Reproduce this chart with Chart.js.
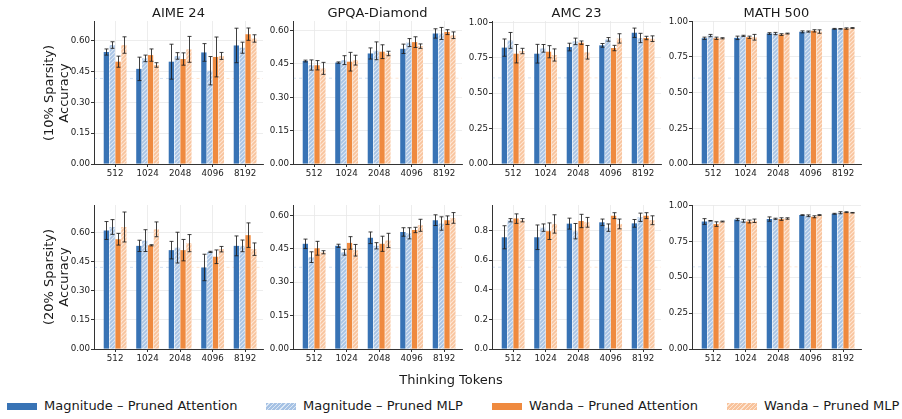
<!DOCTYPE html>
<html><head><meta charset="utf-8">
<script src="https://cdn.jsdelivr.net/npm/chart.js@4.4.1/dist/chart.umd.min.js"></script>
<style>
body{margin:0;width:902px;height:419px;background:#fff;position:relative;overflow:hidden;font-family:"DejaVu Sans",sans-serif;color:#1a1a1a}
canvas{position:absolute}
.title{position:absolute;font-size:13px;line-height:15px;white-space:nowrap;transform:translateX(-50%)}
.ylab{position:absolute;font-size:13px;line-height:15px;text-align:center;white-space:nowrap;transform:translate(-50%,-50%) rotate(-90deg)}
.xlab{position:absolute;font-size:13px;line-height:15px;white-space:nowrap;transform:translateX(-50%)}
.leg{position:absolute;font-size:13px;line-height:15px;white-space:nowrap}
.patch{position:absolute;width:30px;height:7px}
</style></head>
<body>
<script>
// ---------------- DATA ----------------
const categories = ['512','1024','2048','4096','8192'];
const seriesLabels = ['Magnitude – Pruned Attention','Magnitude – Pruned MLP','Wanda – Pruned Attention','Wanda – Pruned MLP'];
const benchmarks = ['AIME 24','GPQA-Diamond','AMC 23','MATH 500'];
const sparsityLabels = ['(10% Sparsity)','(20% Sparsity)'];
const yAxisTitle = 'Accuracy';
const xAxisTitle = 'Thinking Tokens';

// rows: Magnitude-Attn, Magnitude-MLP, Wanda-Attn, Wanda-MLP
const aime10Mean = [[0.545,0.463,0.498,0.543,0.577],[0.579,0.514,0.526,0.454,0.566],[0.498,0.530,0.511,0.521,0.632],[0.579,0.482,0.558,0.526,0.611]];
const aime10Err  = [[0.015,0.057,0.085,0.043,0.084],[0.016,0.016,0.016,0.069,0.027],[0.027,0.030,0.030,0.097,0.030],[0.040,0.011,0.063,0.017,0.018]];
const gpqa10Mean = [[0.463,0.456,0.497,0.518,0.587],[0.445,0.467,0.509,0.546,0.587],[0.444,0.460,0.505,0.548,0.593],[0.430,0.467,0.497,0.530,0.579]];
const gpqa10Err  = [[0.004,0.003,0.025,0.021,0.021],[0.023,0.020,0.040,0.018,0.027],[0.021,0.042,0.031,0.024,0.011],[0.027,0.022,0.010,0.010,0.015]];
const amc10Mean  = [[0.822,0.779,0.826,0.838,0.927],[0.873,0.817,0.866,0.880,0.890],[0.779,0.793,0.857,0.819,0.890],[0.798,0.770,0.789,0.887,0.885]];
const amc10Err   = [[0.061,0.066,0.027,0.013,0.033],[0.056,0.027,0.023,0.013,0.033],[0.065,0.043,0.012,0.019,0.012],[0.019,0.043,0.048,0.033,0.020]];
const math10Mean = [[0.881,0.884,0.914,0.926,0.947],[0.900,0.898,0.914,0.928,0.947],[0.881,0.888,0.907,0.933,0.949],[0.881,0.888,0.914,0.928,0.953]];
const math10Err  = [[0.008,0.012,0.006,0.007,0.003],[0.008,0.004,0.008,0.004,0.002],[0.008,0.008,0.006,0.008,0.005],[0.004,0.020,0.003,0.012,0.003]];

const aime20Mean = [[0.609,0.530,0.508,0.419,0.530],[0.627,0.557,0.521,0.499,0.530],[0.564,0.533,0.508,0.474,0.585],[0.627,0.615,0.544,0.513,0.513]];
const aime20Err  = [[0.046,0.029,0.045,0.068,0.051],[0.038,0.056,0.079,0.003,0.030],[0.030,0.003,0.055,0.035,0.063],[0.077,0.038,0.044,0.014,0.032]];
const gpqa20Mean = [[0.472,0.463,0.499,0.525,0.578],[0.412,0.434,0.463,0.519,0.563],[0.452,0.476,0.472,0.534,0.578],[0.434,0.443,0.487,0.555,0.588]];
const gpqa20Err  = [[0.021,0.007,0.026,0.019,0.024],[0.024,0.013,0.014,0.025,0.030],[0.031,0.028,0.034,0.012,0.019],[0.007,0.026,0.032,0.027,0.024]];
const amc20Mean  = [[0.755,0.755,0.847,0.856,0.849],[0.870,0.820,0.796,0.820,0.890],[0.881,0.796,0.865,0.901,0.901],[0.870,0.845,0.856,0.845,0.870]];
const amc20Err   = [[0.078,0.083,0.037,0.022,0.026],[0.011,0.025,0.052,0.025,0.028],[0.032,0.056,0.045,0.020,0.020],[0.011,0.062,0.033,0.033,0.030]];
const math20Mean = [[0.888,0.902,0.905,0.933,0.942],[0.893,0.893,0.907,0.928,0.949],[0.870,0.888,0.905,0.921,0.953],[0.888,0.893,0.909,0.933,0.949]];
const math20Err  = [[0.020,0.008,0.015,0.002,0.003],[0.002,0.010,0.004,0.006,0.007],[0.016,0.010,0.009,0.007,0.003],[0.003,0.012,0.005,0.003,0.002]];

const yMax10 = [0.696,0.643,1.01,1.002];
const yMax20 = [0.74,0.646,0.973,1.003];
const yStep10 = [0.15,0.15,0.25,0.25];
const yStep20 = [0.15,0.15,0.2,0.25];
const yDecimals10 = [2,2,2,2];
const yDecimals20 = [2,2,1,2];
const refLevel10 = [0.417,0.386,0.608,0.602];
const refLevel20 = [0.420,0.367,0.553,0.572];

// ---------------- STYLE / LAYOUT ----------------
const BLUE = '#3873b5', ORANGE = '#ef8a3f';
function hatch(base, stripe){
  const c = document.createElement('canvas'); c.width = 4; c.height = 4;
  const g = c.getContext('2d');
  g.fillStyle = base; g.fillRect(0,0,4,4);
  g.strokeStyle = stripe; g.lineWidth = 1.1;
  g.beginPath();
  g.moveTo(0,4); g.lineTo(4,0);
  g.moveTo(-1,1); g.lineTo(1,-1);
  g.moveTo(3,5); g.lineTo(5,3);
  g.stroke();
  return g.createPattern(c,'repeat');
}
const fills = [BLUE, hatch('#a6c2e4','#dde8f5'), ORANGE, hatch('#f8c39c','#fde6d4')];

const spineX = [94,293,492,692];
const rowTop = [21,205];
const axisW = 169;
const axisH = [143,144];
const YW = 40, PT = 8, PR = 6, XH = 22;
const X_MIN = -0.65, X_MAX = 4.55;

Chart.defaults.font.family = '"DejaVu Sans", sans-serif';
Chart.defaults.color = '#1a1a1a';

const errorBarPlugin = {
  id: 'errorBars',
  afterDatasetsDraw(chart){
    const ctx = chart.ctx, ys = chart.scales.y;
    ctx.save();
    ctx.strokeStyle = 'rgba(30,30,30,0.85)';
    ctx.lineWidth = 1;
    chart.data.datasets.forEach((ds, i) => {
      const meta = chart.getDatasetMeta(i);
      meta.data.forEach((bar, j) => {
        const v = ds.data[j].y, e = ds.errors[j];
        const y1 = ys.getPixelForValue(v - e), y2 = ys.getPixelForValue(v + e);
        const x = Math.round(bar.x) + 0.5;
        ctx.beginPath();
        ctx.moveTo(x, y1); ctx.lineTo(x, y2);
        ctx.moveTo(x - 2, y1); ctx.lineTo(x + 2, y1);
        ctx.moveTo(x - 2, y2); ctx.lineTo(x + 2, y2);
        ctx.stroke();
      });
    });
    ctx.restore();
  }
};
const refLinePlugin = {
  id: 'refLine',
  beforeDatasetsDraw(chart, args, opts){
    const a = chart.chartArea, y = chart.scales.y.getPixelForValue(opts.level);
    const mid = (a.left + a.right) / 2;
    const ctx = chart.ctx;
    ctx.save();
    ctx.lineWidth = 0.7; ctx.setLineDash([3,3]);
    ctx.strokeStyle = 'rgba(56,115,181,0.3)';
    ctx.beginPath(); ctx.moveTo(a.left, y); ctx.lineTo(mid, y); ctx.stroke();
    ctx.strokeStyle = 'rgba(239,138,63,0.3)';
    ctx.beginPath(); ctx.moveTo(mid, y); ctx.lineTo(a.right, y); ctx.stroke();
    ctx.restore();
  }
};

const panels = [
  [aime10Mean, aime10Err], [gpqa10Mean, gpqa10Err], [amc10Mean, amc10Err], [math10Mean, math10Err],
  [aime20Mean, aime20Err], [gpqa20Mean, gpqa20Err], [amc20Mean, amc20Err], [math20Mean, math20Err]
];

panels.forEach(([means, errs], p) => {
  const row = Math.floor(p / 4), col = p % 4;
  const yMax = row ? yMax20[col] : yMax10[col];
  const yStep = row ? yStep20[col] : yStep10[col];
  const dec = row ? yDecimals20[col] : yDecimals10[col];
  const ref = row ? refLevel20[col] : refLevel10[col];
  const cv = document.createElement('canvas');
  const W = YW + axisW + PR, H = PT + axisH[row] + XH;
  cv.width = W; cv.height = H;
  cv.style.left = (spineX[col] - YW) + 'px';
  cv.style.top = (rowTop[row] - PT) + 'px';
  cv.style.width = W + 'px'; cv.style.height = H + 'px';
  document.body.appendChild(cv);
  new Chart(cv, {
    type: 'bar',
    data: {
      datasets: means.map((m, s) => ({
        label: seriesLabels[s], data: m.map((v, j) => ({x: j, y: v})), errors: errs[s],
        backgroundColor: fills[s], borderWidth: 0,
        categoryPercentage: 0.72, barPercentage: 0.9
      }))
    },
    options: {
      responsive: false, animation: false, devicePixelRatio: 1,
      layout: {padding: {top: PT, right: PR, left: 0, bottom: 0}},
      plugins: {legend: {display: false}, tooltip: {enabled: false}, refLine: {level: ref}},
      scales: {
        x: {
          type: 'linear', min: X_MIN, max: X_MAX, offset: false, bounds: 'data',
          grid: {offset: false, color: '#e8e8e8', lineWidth: 0.8, tickLength: 3, tickColor: '#333', tickWidth: 1},
          border: {display: true, color: '#333', width: 1},
          ticks: {font: {size: 8.7}, padding: 2, maxRotation: 0, autoSkip: false, color: '#1a1a1a',
                  callback: v => categories[v] ?? ''},
          afterBuildTicks: s => { s.ticks = categories.map((c, i) => ({value: i})); },
          afterFit: s => { s.height = XH; }
        },
        y: {
          min: 0, max: yMax, bounds: 'data',
          grid: {color: '#e8e8e8', lineWidth: 0.8, tickLength: 3, tickColor: '#333', tickWidth: 1},
          border: {display: true, color: '#333', width: 1},
          ticks: {stepSize: yStep, includeBounds: false, font: {size: 8.7}, padding: 1, color: '#1a1a1a',
                  callback: v => Number(v).toFixed(dec)},
          afterBuildTicks: s => {
            s.ticks = s.ticks.filter(t => Math.abs(t.value / yStep - Math.round(t.value / yStep)) < 1e-6 && t.value <= yMax);
          },
          afterFit: s => { s.width = YW; }
        }
      }
    },
    plugins: [refLinePlugin, errorBarPlugin]
  });
  if (row === 0) {
    const t = document.createElement('div');
    t.className = 'title'; t.textContent = benchmarks[col];
    t.style.left = (spineX[col] + axisW / 2) + 'px'; t.style.top = '5px';
    document.body.appendChild(t);
  }
});

// y-axis titles
sparsityLabels.forEach((lab, r) => {
  const d = document.createElement('div');
  d.className = 'ylab';
  d.appendChild(document.createTextNode(lab));
  d.appendChild(document.createElement('br'));
  d.appendChild(document.createTextNode(yAxisTitle));
  d.style.left = '56px';
  d.style.top = (rowTop[r] + axisH[r] / 2) + 'px';
  document.body.appendChild(d);
});
// x-axis title
const xl = document.createElement('div');
xl.className = 'xlab'; xl.textContent = xAxisTitle;
xl.style.left = '451px'; xl.style.top = '372px';
document.body.appendChild(xl);

// legend
const legPatchX = [7, 266, 492, 727];
const legBg = [BLUE,
  'repeating-linear-gradient(135deg,#a6c2e4 0 2px,#dde8f5 2px 3px)',
  ORANGE,
  'repeating-linear-gradient(135deg,#f8c39c 0 2px,#fde6d4 2px 3px)'];
seriesLabels.forEach((lab, i) => {
  const pch = document.createElement('div');
  pch.className = 'patch';
  pch.style.left = legPatchX[i] + 'px'; pch.style.top = '403px';
  pch.style.background = legBg[i];
  document.body.appendChild(pch);
  const t = document.createElement('div');
  t.className = 'leg'; t.textContent = lab;
  t.style.left = (legPatchX[i] + 37) + 'px'; t.style.top = '398px';
  document.body.appendChild(t);
});
</script>
</body></html>
